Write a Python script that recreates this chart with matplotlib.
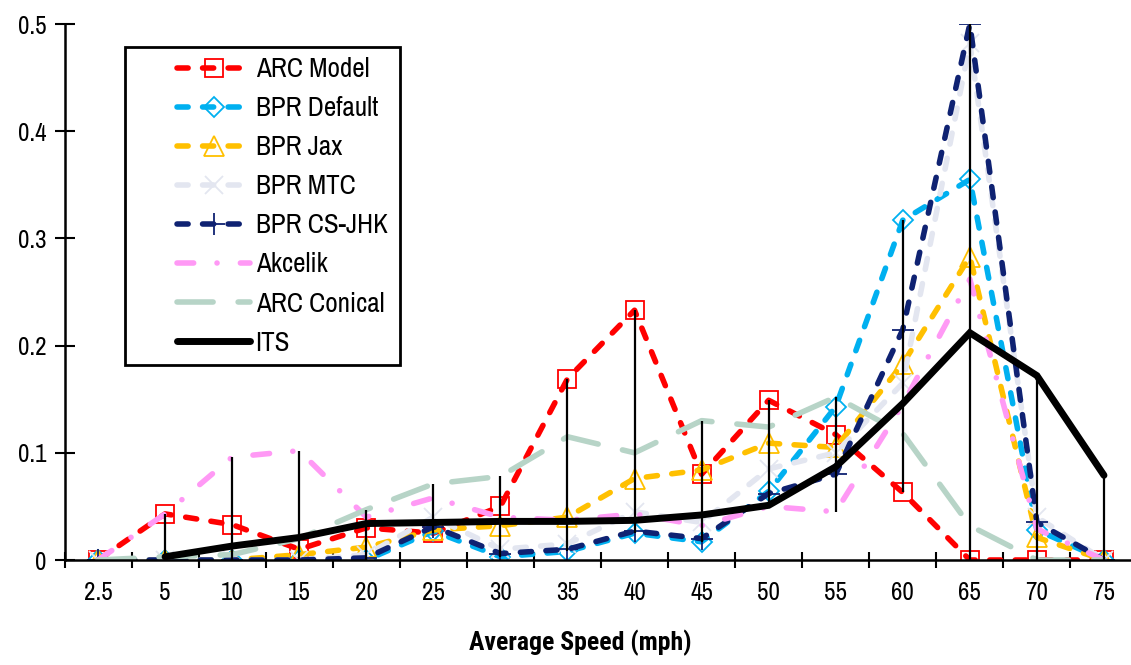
import numpy as np
import matplotlib
matplotlib.use("Agg")
import matplotlib.pyplot as plt
from matplotlib.patches import Rectangle

plt.rcParams['font.family'] = ['Archivo Narrow', 'DejaVu Sans']

speeds = ["2.5", "5", "10", "15", "20", "25", "30", "35", "40", "45",
          "50", "55", "60", "65", "70", "75"]

arc_model = [0, 0.043, 0.033, 0.010, 0.030, 0.025, 0.050, 0.169, 0.233, 0.080,
             0.149, 0.117, 0.063, 0, 0, 0]
bpr_default = [0, 0, 0, 0, 0, 0.027, 0.003, 0.008, 0.025, 0.017,
               0.064, 0.143, 0.317, 0.355, 0.028, 0]
bpr_jax = [0, 0, 0, 0.005, 0.012, 0.028, 0.032, 0.040, 0.076, 0.084,
           0.109, 0.105, 0.183, 0.283, 0.021, 0]
bpr_mtc = [0, 0, 0, 0, 0.005, 0.040, 0.010, 0.015, 0.045, 0.035,
           0.085, 0.100, 0.165, 0.482, 0.040, 0]
bpr_csjhk = [0, 0, 0, 0, 0.002, 0.031, 0.006, 0.010, 0.027, 0.020,
             0.062, 0.080, 0.215, 0.500, 0.035, 0]
akcelik = [0, 0.043, 0.096, 0.102, 0.040, 0.058, 0.040, 0.037, 0.043, 0.032,
           0.050, 0.045, 0.145, 0.262, 0.029, 0]
arc_conical = [0, 0.003, 0.005, 0.020, 0.047, 0.071, 0.078, 0.115, 0.100, 0.130,
               0.124, 0.152, 0.118, 0.032, 0, 0]
its = [np.nan, 0.003, 0.013, 0.021, 0.034, 0.035, 0.036, 0.036, 0.037, 0.042,
       0.051, 0.087, 0.146, 0.212, 0.172, 0.079]

series = [
    ("ARC Model", arc_model, dict(color="#FF0000", marker="s", ms=13, dashes=(2, 2.6))),
    ("BPR Default", bpr_default, dict(color="#00B0F0", marker="D", ms=10, dashes=(2, 2.6))),
    ("BPR Jax", bpr_jax, dict(color="#FFC000", marker="^", ms=15, dashes=(2, 2.6))),
    ("BPR MTC", bpr_mtc, dict(color="#E3E6F0", marker="x", ms=13, dashes=(2, 2.6))),
    ("BPR CS-JHK", bpr_csjhk, dict(color="#0F2272", marker="+", ms=16, dashes=(2, 2.6))),
    ("Akcelik", akcelik, dict(color="#FF99F5", marker=None, dashes=(3, 4.2, 0.01, 4.2))),
    ("ARC Conical", arc_conical, dict(color="#B7D4C7", marker=None, dashes=(6.5, 4.5))),
]

fig = plt.figure(figsize=(11.31, 6.65), dpi=100)
ax = fig.add_axes([64.5 / 1131, 105 / 665, 1073 / 1131, 536 / 665])

x = np.arange(len(speeds))

for name, vals, st in series:
    ax.plot(x, vals, label=name, color=st["color"], lw=4,
            dashes=st["dashes"], dash_capstyle="round",
            marker=st["marker"], ms=st.get("ms", 0), mfc="none",
            mec=st["color"], mew=1.3)

ax.plot(x, its, label="ITS", color="black", lw=5, solid_capstyle="round",
        solid_joinstyle="miter")

# high-low lines across all series
allv = np.array([s[1] for s in series] + [its], dtype=float)
lo = np.nanmin(allv, axis=0)
hi = np.nanmax(allv, axis=0)
ax.vlines(x, lo, hi, color="black", lw=1.6, zorder=5)

ax.set_xlim(-0.5, len(speeds) - 0.5)
ax.set_ylim(0, 0.5)
ax.set_yticks([0, 0.1, 0.2, 0.3, 0.4, 0.5])
ax.set_yticklabels(["0", "0.1", "0.2", "0.3", "0.4", "0.5"])

ax.set_xticks(np.arange(-0.5, len(speeds)))
ax.set_xticklabels([])
ax.set_xticks(x, minor=True)
ax.set_xticklabels(speeds, minor=True)
ax.tick_params(axis="x", which="major", direction="inout", length=12, width=1.5)
ax.tick_params(axis="x", which="minor", length=0, pad=15, labelsize=18)
ax.tick_params(axis="y", direction="inout", length=14, width=1.5, pad=6, labelsize=18)

for sp in ["top", "right"]:
    ax.spines[sp].set_visible(False)
for sp in ["left", "bottom"]:
    ax.spines[sp].set_linewidth(1.8)

ax.set_xlabel("Average Speed (mph)", fontsize=18.5, fontweight="bold",
              family=["Roboto Condensed", "DejaVu Sans"])
ax.xaxis.set_label_coords(0.4805, -0.13)

# legend box drawn separately so the inner padding can be uneven
box = Rectangle((125 / 1131, 1 - 365 / 665), 275 / 1131, 318 / 665,
                transform=fig.transFigure, facecolor="white", edgecolor="black",
                lw=2, zorder=6, clip_on=False)
ax.add_patch(box)
leg = ax.legend(loc="upper left", bbox_to_anchor=(177 / 1131, 1 - 57 / 665),
                bbox_transform=fig.transFigure, fontsize=19.5, frameon=False,
                handlelength=2.7, labelspacing=0.52, borderpad=0,
                handletextpad=0.2, borderaxespad=0)
leg.set_zorder(7)

fig.savefig("out.png", dpi=100)
